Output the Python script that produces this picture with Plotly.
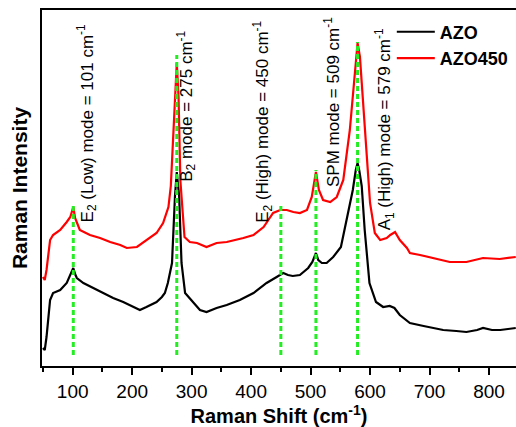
import plotly.graph_objects as go

# Raman spectra (wavenumber in cm^-1, intensity in arbitrary units)
azo_shift = [50, 53, 56, 60, 62, 67, 79, 90, 95, 101, 104, 107, 118, 135, 152, 168, 185, 202, 213,
             224, 241, 250, 255, 260, 264, 267, 272, 275, 279, 283, 289, 300, 314, 325, 342, 359,
             381, 404, 426, 443, 454, 462, 470, 482, 496, 503, 509, 513, 519, 527, 538, 551, 562,
             571, 576, 579, 582, 586, 591, 599, 610, 622, 633, 641, 650, 667, 690, 723, 745, 762,
             780, 790, 805, 819, 832, 845]
azo_int = [18, 16, 29, 55, 66, 73, 76, 83, 90, 98, 92, 88, 83, 78, 73, 68, 64, 59, 56,
           59, 64, 69, 73, 83, 95, 103, 170, 194, 170, 103, 73, 66, 56, 54, 58, 61,
           66, 73, 83, 89, 93, 91, 90, 91, 98, 104, 113, 106, 103, 103, 109, 119, 149,
           176, 196, 203, 195, 180, 136, 83, 64, 59, 60, 58, 51, 43, 40, 36, 35, 34,
           36, 38, 36, 36, 37, 38]

azo450_shift = [50, 53, 56, 62, 67, 79, 90, 96, 101, 104, 112, 129, 146, 163, 180, 191, 208, 224,
                241, 252, 261, 265, 269, 272, 275, 278, 281, 288, 297, 309, 325, 342, 359, 387,
                404, 421, 437, 449, 460, 471, 482, 494, 502, 509, 514, 521, 533, 544, 555, 566,
                573, 579, 583, 591, 600, 608, 617, 628, 634, 642, 650, 662, 667, 684, 706, 734,
                762, 790, 818, 845]
azo450_int = [89, 86, 96, 126, 131, 136, 144, 149, 159, 148, 136, 131, 128, 124, 121, 118, 119, 126,
              133, 143, 159, 180, 230, 280, 303, 269, 186, 129, 124, 123, 119, 123, 124, 128,
              131, 139, 153, 156, 156, 154, 153, 156, 169, 194, 176, 166, 164, 169, 186, 236,
              286, 323, 309, 236, 163, 133, 126, 128, 131, 134, 126, 118, 113, 111, 108, 104,
              104, 108, 107, 109]

# Assigned phonon modes: position, label, top of the marker line
mode_shift = [101, 275, 450, 509, 579]
mode_top = [161, 311, 163, 196, 324]
mode_labels = ["E<sub>2</sub> (Low) mode = 101 cm<sup>-1</sup>",
               "B<sub>2</sub> mode = 275 cm<sup>-1</sup>",
               "E<sub>2</sub> (High) mode = 450 cm<sup>-1</sup>",
               "SPM mode = 509 cm<sup>-1</sup>",
               "A<sub>1</sub> (High) mode = 579 cm<sup>-1</sup>"]
label_x = [124, 291, 418, 536, 624]
label_y = [142, 182, 141, 177, 134]

x_range = [48.4, 845.4]
y_range = [0, 356]

FONT = "Arial, Liberation Sans, sans-serif"

fig = go.Figure()
fig.add_trace(go.Scatter(x=azo_shift, y=azo_int, mode="lines", name="AZO",
                         line=dict(color="black", width=2.2)))
fig.add_trace(go.Scatter(x=azo450_shift, y=azo450_int, mode="lines", name="AZO450",
                         line=dict(color="#ff0000", width=2.2)))

for xs, top in zip(mode_shift, mode_top):
    fig.add_trace(go.Scatter(x=[xs, xs], y=[11, top], mode="lines", showlegend=False,
                             hoverinfo="skip",
                             line=dict(color="#22ee22", width=3, dash="5px,3px")))

for txt, lx, ly in zip(mode_labels, label_x, label_y):
    fig.add_annotation(x=lx, y=ly, xref="x", yref="y", text=txt, textangle=-90,
                       showarrow=False, xanchor="center", yanchor="bottom",
                       font=dict(family=FONT, size=17, color="black"))

fig.update_layout(
    width=516, height=427,
    margin=dict(l=42, r=0, t=10, b=61),
    paper_bgcolor="white", plot_bgcolor="white",
    font=dict(family=FONT, color="black"),
    legend=dict(x=0.738, y=0.99, xanchor="left", yanchor="top",
                bgcolor="rgba(0,0,0,0)", borderwidth=0, itemwidth=38,
                font=dict(family=FONT, size=18, color="black", weight="bold"),
                tracegroupgap=0),
    xaxis=dict(range=x_range, showgrid=False, zeroline=False,
               showline=True, linecolor="black", linewidth=2, mirror=True,
               ticks="outside", ticklen=7, tickwidth=2, tickcolor="black",
               tickvals=[100, 200, 300, 400, 500, 600, 700, 800],
               minor=dict(ticks="outside", ticklen=4, tickwidth=2, tickcolor="black",
                          dtick=50, tick0=0, showgrid=False),
               tickfont=dict(family=FONT, size=19, color="black"),
               title=dict(text="<b>Raman Shift (cm<sup>-1</sup>)</b>",
                          font=dict(family=FONT, size=20, color="black"), standoff=5)),
    yaxis=dict(range=y_range, showgrid=False, zeroline=False,
               showline=True, linecolor="black", linewidth=2,
               ticks="", showticklabels=False,
               title=dict(text="<b>Raman Intensity</b>",
                          font=dict(family=FONT, size=21, color="black"), standoff=7)),
)

fig.write_html("out.html")
